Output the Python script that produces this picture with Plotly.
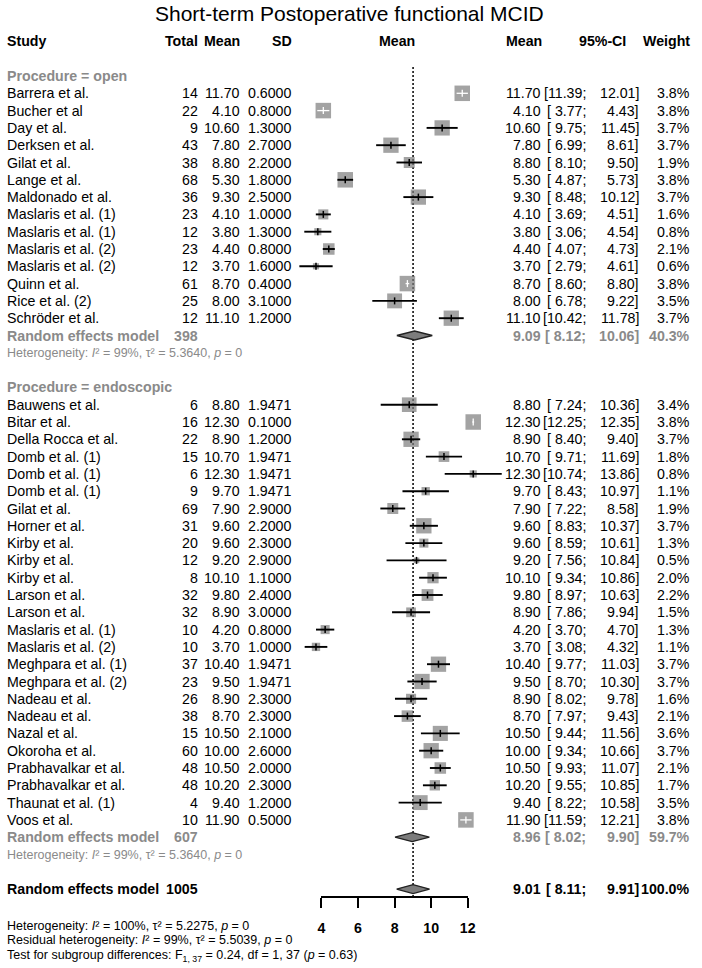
import plotly.graph_objects as go
import numpy as np

# ---------------- data ----------------
open_study = ["Barrera et al.", "Bucher et al", "Day et al.", "Derksen et al.", "Gilat et al.",
              "Lange et al.", "Maldonado et al.", "Maslaris et al. (1)", "Maslaris et al. (1)",
              "Maslaris et al. (2)", "Maslaris et al. (2)", "Quinn et al.", "Rice et al. (2)",
              "Schröder et al."]
open_total = [14, 22, 9, 43, 38, 68, 36, 23, 12, 23, 12, 61, 25, 12]
open_mean = [11.70, 4.10, 10.60, 7.80, 8.80, 5.30, 9.30, 4.10, 3.80, 4.40, 3.70, 8.70, 8.00, 11.10]
open_sd = [0.6, 0.8, 1.3, 2.7, 2.2, 1.8, 2.5, 1.0, 1.3, 0.8, 1.6, 0.4, 3.1, 1.2]
open_lo = [11.39, 3.77, 9.75, 6.99, 8.10, 4.87, 8.48, 3.69, 3.06, 4.07, 2.79, 8.60, 6.78, 10.42]
open_hi = [12.01, 4.43, 11.45, 8.61, 9.50, 5.73, 10.12, 4.51, 4.54, 4.73, 4.61, 8.80, 9.22, 11.78]
open_w = [3.8, 3.8, 3.7, 3.7, 1.9, 3.8, 3.7, 1.6, 0.8, 2.1, 0.6, 3.8, 3.5, 3.7]

endo_study = ["Bauwens et al.", "Bitar et al.", "Della Rocca et al.", "Domb et al. (1)",
              "Domb et al. (1)", "Domb et al. (1)", "Gilat et al.", "Horner et al.", "Kirby et al.",
              "Kirby et al.", "Kirby et al.", "Larson et al.", "Larson et al.", "Maslaris et al. (1)",
              "Maslaris et al. (2)", "Meghpara et al. (1)", "Meghpara et al. (2)", "Nadeau et al.",
              "Nadeau et al.", "Nazal et al.", "Okoroha et al.", "Prabhavalkar et al.",
              "Prabhavalkar et al.", "Thaunat et al. (1)", "Voos et al."]
endo_total = [6, 16, 22, 15, 6, 9, 69, 31, 20, 12, 8, 32, 32, 10, 10, 37, 23, 26, 38, 15, 60, 48, 48, 4, 10]
endo_mean = [8.80, 12.30, 8.90, 10.70, 12.30, 9.70, 7.90, 9.60, 9.60, 9.20, 10.10, 9.80, 8.90, 4.20,
             3.70, 10.40, 9.50, 8.90, 8.70, 10.50, 10.00, 10.50, 10.20, 9.40, 11.90]
endo_sd = [1.9471, 0.1, 1.2, 1.9471, 1.9471, 1.9471, 2.9, 2.2, 2.3, 2.9, 1.1, 2.4, 3.0, 0.8, 1.0,
           1.9471, 1.9471, 2.3, 2.3, 2.1, 2.6, 2.0, 2.3, 1.2, 0.5]
endo_lo = [7.24, 12.25, 8.40, 9.71, 10.74, 8.43, 7.22, 8.83, 8.59, 7.56, 9.34, 8.97, 7.86, 3.70, 3.08,
           9.77, 8.70, 8.02, 7.97, 9.44, 9.34, 9.93, 9.55, 8.22, 11.59]
endo_hi = [10.36, 12.35, 9.40, 11.69, 13.86, 10.97, 8.58, 10.37, 10.61, 10.84, 10.86, 10.63, 9.94, 4.70,
           4.32, 11.03, 10.30, 9.78, 9.43, 11.56, 10.66, 11.07, 10.85, 10.58, 12.21]
endo_w = [3.4, 3.8, 3.7, 1.8, 0.8, 1.1, 1.9, 3.7, 1.3, 0.5, 2.0, 2.2, 1.5, 1.3, 1.1, 3.7, 3.7, 1.6, 2.1,
          3.6, 3.7, 2.1, 1.7, 3.5, 3.8]

group_labels = ["Procedure = open", "Procedure = endoscopic"]
re_total = [398, 607]
re_mean = [9.09, 8.96]
re_lo = [8.12, 8.02]
re_hi = [10.06, 9.90]
re_w = [40.3, 59.7]
het_group = ["Heterogeneity: <i>I</i>² = 99%, τ² = 5.3640, <i>p</i> = 0",
             "Heterogeneity: <i>I</i>² = 99%, τ² = 5.3640, <i>p</i> = 0"]

overall_total = 1005
overall_mean = 9.01
overall_lo = 8.11
overall_hi = 9.91
overall_w = 100.0
bottom_text = [
    "Heterogeneity: <i>I</i>² = 100%, τ² = 5.2275, <i>p</i> = 0",
    "Residual heterogeneity: <i>I</i>² = 99%, τ² = 5.5039, <i>p</i> = 0",
    "Test for subgroup differences: F<sub>1, 37</sub> = 0.24, df = 1, 37 (<i>p</i> = 0.63)",
]
tick_vals = [4, 6, 8, 10, 12]
title = "Short-term Postoperative functional MCID"

# ---------------- layout constants ----------------
W, H = 702, 968
ROW0 = 76.0
DY = 17.3
X4 = 323.0
PXU = 18.6
FONT = "Arial, 'Liberation Sans', sans-serif"
FS = 14.2
HFS = 12.5
GRAY = "#8a8a8a"
SQ = "#7c7c7c"
AXIS_Y = 897

xmin = 4 - X4 / PXU
xmax = xmin + W / PXU


def ry(r):
    return ROW0 + r * DY


annotations = []


def ann(text, x, y, anchor, color="#000", size=FS, bold=False):
    if bold:
        text = "<b>" + text + "</b>"
    annotations.append(dict(text=text, x=x / W, xref="paper", y=y, yref="y", xanchor=anchor,
                            yanchor="middle", showarrow=False, borderpad=0, borderwidth=0,
                            font=dict(family=FONT, size=size, color=color)))


def ci_text(lo, hi, y, color="#000", bold=False):
    lo_s = ("[" if lo >= 10 else "[ ") + f"{lo:.2f};"
    ann(lo_s, 592, y, "right", color, bold=bold)
    ann(f"{hi:.2f}]", 646, y, "right", color, bold=bold)


# title + header
ann(title, 351, 13, "center", size=21)
hy = ry(-2)
ann("Study", 3, hy, "left", bold=True)
ann("Total", 197, hy, "right", bold=True)
ann("Mean", 240, hy, "right", bold=True)
ann("SD", 293, hy, "right", bold=True)
ann("Mean", 400, hy, "center", bold=True)
ann("Mean", 547, hy, "right", bold=True)
ann("95%-CI", 633, hy, "right", bold=True)
ann("Weight", 698, hy, "right", bold=True)

groups = [
    (open_study, open_total, open_mean, open_sd, open_lo, open_hi, open_w),
    (endo_study, endo_total, endo_mean, endo_sd, endo_lo, endo_hi, endo_w),
]

sq_x, sq_y, sq_s = [], [], []
blk_x, blk_y, wht_x, wht_y = [], [], [], []
tb_x, tb_y, tw_x, tw_y = [], [], [], []
diamonds = []

r = 0
for gi, (st, tot, mn, sd, lo, hi, w) in enumerate(groups):
    ann(group_labels[gi], 3, ry(r), "left", GRAY, bold=True)
    r += 1
    for i in range(len(st)):
        y = ry(r)
        ann(st[i], 3, y, "left")
        ann(str(tot[i]), 197, y, "right")
        ann(f"{mn[i]:.2f}", 240, y, "right")
        ann(f"{sd[i]:.4f}", 293, y, "right")
        ann(f"{mn[i]:.2f}", 546, y, "right")
        ci_text(lo[i], hi[i], y)
        ann(f"{w[i]:.1f}%", 698, y, "right")
        size = 15.5 * np.sqrt(w[i] / 3.8)
        sq_x.append(mn[i]); sq_y.append(y); sq_s.append(size)
        inside = (hi[i] - lo[i]) / 2 * PXU < size / 2
        if inside:
            wht_x += [lo[i], hi[i], None]; wht_y += [y, y, None]
            tw_x.append(mn[i]); tw_y.append(y)
        else:
            blk_x += [lo[i], hi[i], None]; blk_y += [y, y, None]
            tb_x.append(mn[i]); tb_y.append(y)
        r += 1
    y = ry(r)
    ann("Random effects model", 3, y, "left", GRAY, bold=True)
    ann(str(re_total[gi]), 197, y, "right", GRAY, bold=True)
    ann(f"{re_mean[gi]:.2f}", 546, y, "right", GRAY, bold=True)
    ci_text(re_lo[gi], re_hi[gi], y, GRAY, bold=True)
    ann(f"{re_w[gi]:.1f}%", 698, y, "right", GRAY, bold=True)
    diamonds.append((re_lo[gi], re_mean[gi], re_hi[gi], y))
    r += 1
    ann(het_group[gi], 3, ry(r), "left", GRAY, size=HFS)
    r += 2

# overall
y = ry(r)
ann("Random effects model", 3, y, "left", bold=True)
ann(str(overall_total), 197, y, "right", bold=True)
ann(f"{overall_mean:.2f}", 546, y, "right", bold=True)
ci_text(overall_lo, overall_hi, y, bold=True)
ann(f"{overall_w:.1f}%", 698, y, "right", bold=True)
diamonds.append((overall_lo, overall_mean, overall_hi, y))

bottom_y = [925.5, 939.5, 955.5]
for t, by in zip(bottom_text, bottom_y):
    ann(t, 3, by, "left", size=HFS)

fig = go.Figure()

# reference line
fig.add_trace(go.Scatter(x=[overall_mean, overall_mean], y=[67, AXIS_Y], mode="lines",
                         line=dict(color="black", width=1.5, dash="2px,2px"), hoverinfo="skip"))
# squares
fig.add_trace(go.Scatter(x=sq_x, y=sq_y, mode="markers",
                         marker=dict(symbol="square", size=sq_s, color=SQ, line=dict(width=0)),
                         hoverinfo="skip"))
# CI lines
fig.add_trace(go.Scatter(x=blk_x, y=blk_y, mode="lines", line=dict(color="black", width=1.9),
                         hoverinfo="skip"))
fig.add_trace(go.Scatter(x=wht_x, y=wht_y, mode="lines", line=dict(color="white", width=1.3),
                         hoverinfo="skip"))
fig.add_trace(go.Scatter(x=tb_x, y=tb_y, mode="markers",
                         marker=dict(symbol="line-ns", size=5, line=dict(color="black", width=1.5)),
                         hoverinfo="skip"))
fig.add_trace(go.Scatter(x=tw_x, y=tw_y, mode="markers",
                         marker=dict(symbol="line-ns", size=5, line=dict(color="white", width=1.3)),
                         hoverinfo="skip"))
# diamonds
for lo, m, hi, y in diamonds:
    h = 4.5
    fig.add_trace(go.Scatter(x=[lo, m, hi, m, lo], y=[y, y - h, y, y + h, y], mode="lines",
                             fill="toself", fillcolor=SQ, line=dict(color="#222", width=1.3),
                             hoverinfo="skip"))
# dummy trace carrying the visible axis
fig.add_trace(go.Scatter(x=[tick_vals[0], tick_vals[-1]], y=[-100, -100], xaxis="x2", yaxis="y",
                         mode="markers", marker=dict(opacity=0), hoverinfo="skip"))

fig.update_layout(
    width=W, height=H, margin=dict(l=0, r=0, t=0, b=0),
    paper_bgcolor="white", plot_bgcolor="rgba(0,0,0,0)", showlegend=False,
    xaxis=dict(range=[xmin, xmax], domain=[0, 1], visible=False, fixedrange=True),
    yaxis=dict(range=[H, 0], domain=[0, 1], visible=False, fixedrange=True),
    xaxis2=dict(range=[tick_vals[0], tick_vals[-1]],
                domain=[X4 / W, (X4 + (tick_vals[-1] - tick_vals[0]) * PXU) / W],
                anchor="free", position=(H - AXIS_Y) / H, side="bottom",
                showline=True, linecolor="black", linewidth=1.5, showgrid=False, zeroline=False,
                ticks="outside", ticklen=10, tickwidth=1.5, tickcolor="black",
                ticklabelstandoff=8,
                tickvals=tick_vals, ticktext=["<b>%d</b>" % v for v in tick_vals],
                tickfont=dict(family=FONT, size=FS, color="black"), fixedrange=True),
    annotations=annotations,
)

fig.write_html("out.html")
